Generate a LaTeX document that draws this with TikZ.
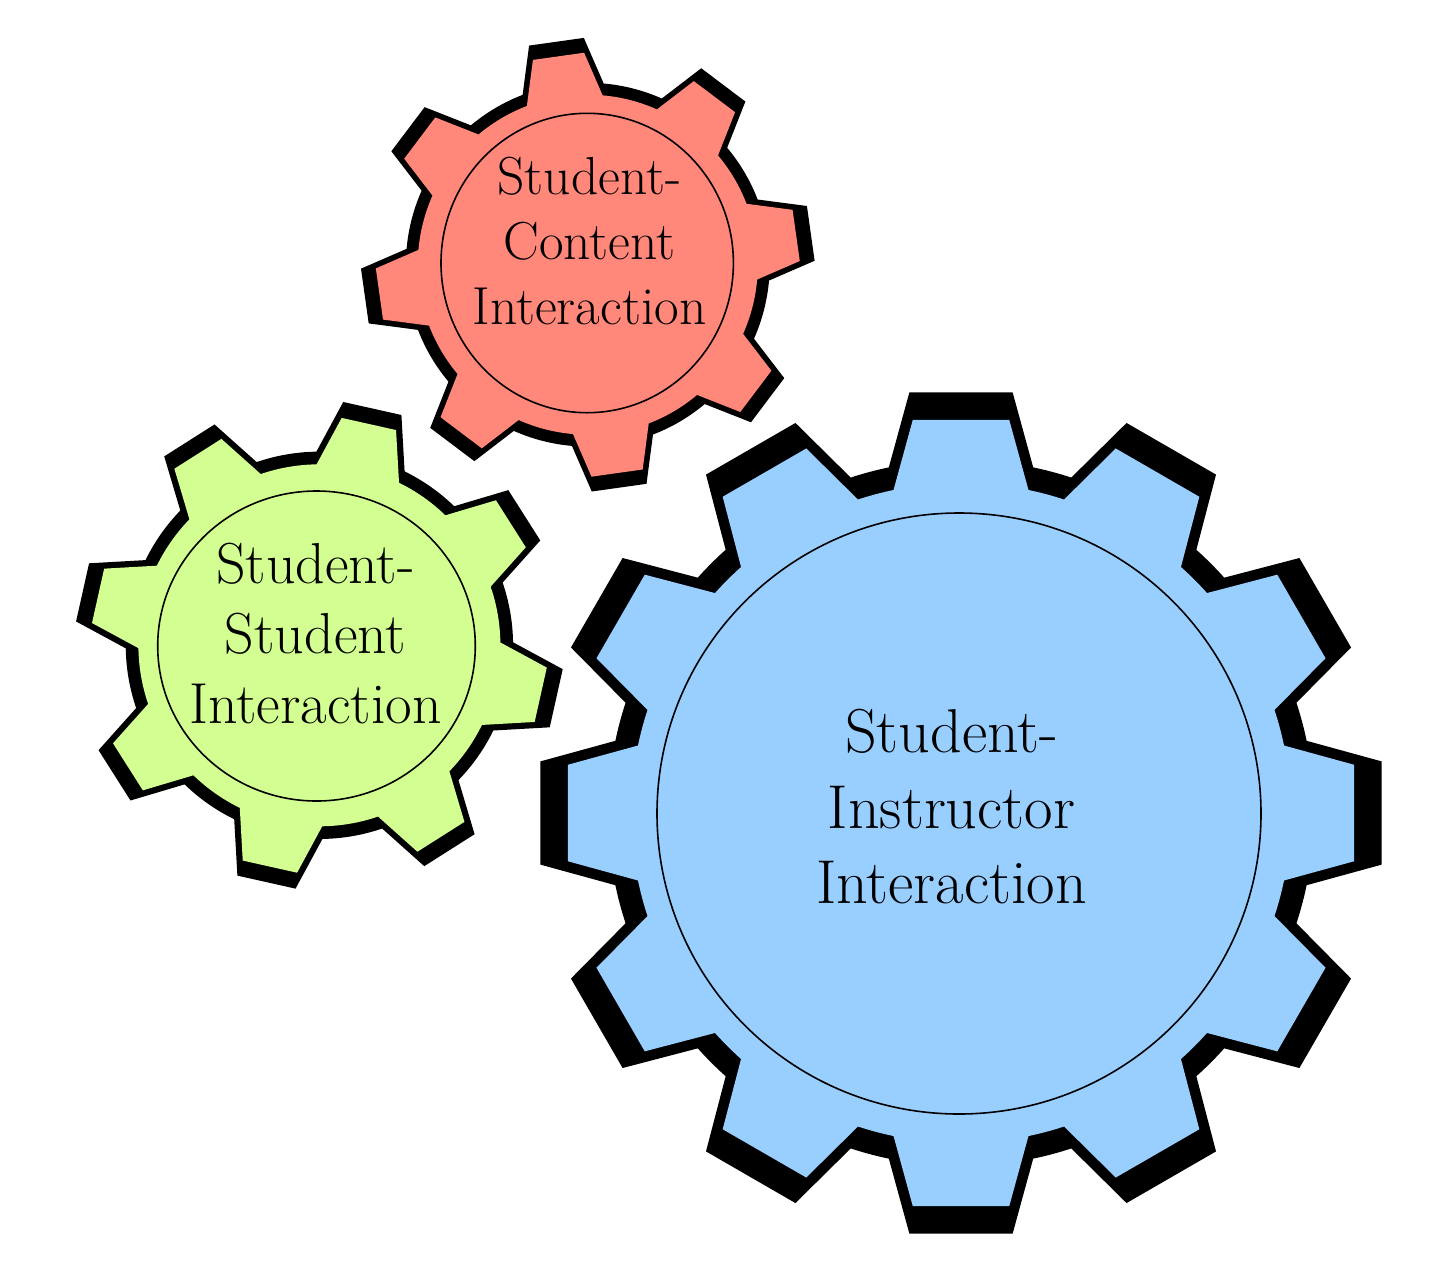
\documentclass[tikz,border=0pt]{standalone}
\usetikzlibrary{shapes.geometric}
\definecolor{gearred}{HTML}{FF887B}
\definecolor{geargreen}{HTML}{D3FF92}
\definecolor{gearblue}{HTML}{99CFFF}
\newcommand{\gearpath}[5]{(#2-7:#3) \foreach \k [evaluate=\k as \a using {#2+(\k-1)*360/#1}] in {1,...,#1} {-- (\a-7:#3) -- (\a+7:#3) -- (\a+#5:#4) arc (\a+#5:\a+360/#1-#5:#4)} -- cycle}
\newcommand{\gear}[7]{
    \fill [shift={#1}, scale=1.07] \gearpath{#2}{#3}{#4}{#5}{#6};
    \fill [#7, shift={#1}] \gearpath{#2}{#3}{#4}{#5}{#6};
}
\tikzset{
    ring/.style={draw, ellipse, inner sep=0pt, line width=1.6pt},
    smalllabel/.style={align=center, font=\fontsize{53.5}{65}\selectfont},
    midlabel/.style={align=center, font=\fontsize{57.8}{70}\selectfont},
    biglabel/.style={align=center, font=\fontsize{62}{75.5}\selectfont}
}
\begin{document}
\begin{tikzpicture}[x=1pt, y=-1pt]
    \useasboundingbox (0, 0) rectangle (1448, 1267);
    \gear{(961, 813)}{12}{-90}{396}{330}{11.8}{gearblue}
    \gear{(319.4, 645.3)}{8}{-77.4}{228.5}{181}{13.5}{geargreen}
    \gear{(587.8, 264.7)}{8}{-98}{212}{170}{13}{gearred}
    \node [ring, minimum width=604pt, minimum height=601pt] (ringinstructor) at (959, 813.5) {};
    \node [ring, minimum width=317.6pt, minimum height=310pt] (ringstudent) at (316.5, 646) {};
    \node [ring, minimum width=292.4pt, minimum height=299.4pt] (ringcontent) at (587.2, 263) {};
    \node [biglabel] (labelinstructor) at (951.5, 807) {Student-\\Instructor\\Interaction};
    \node [midlabel] (labelstudent) at (315.5, 633.5) {Student-\\Student\\Interaction};
    \node [smalllabel] (labelcontent) at (589.5, 241.5) {Student-\\Content\\Interaction};
\end{tikzpicture}
\end{document}
